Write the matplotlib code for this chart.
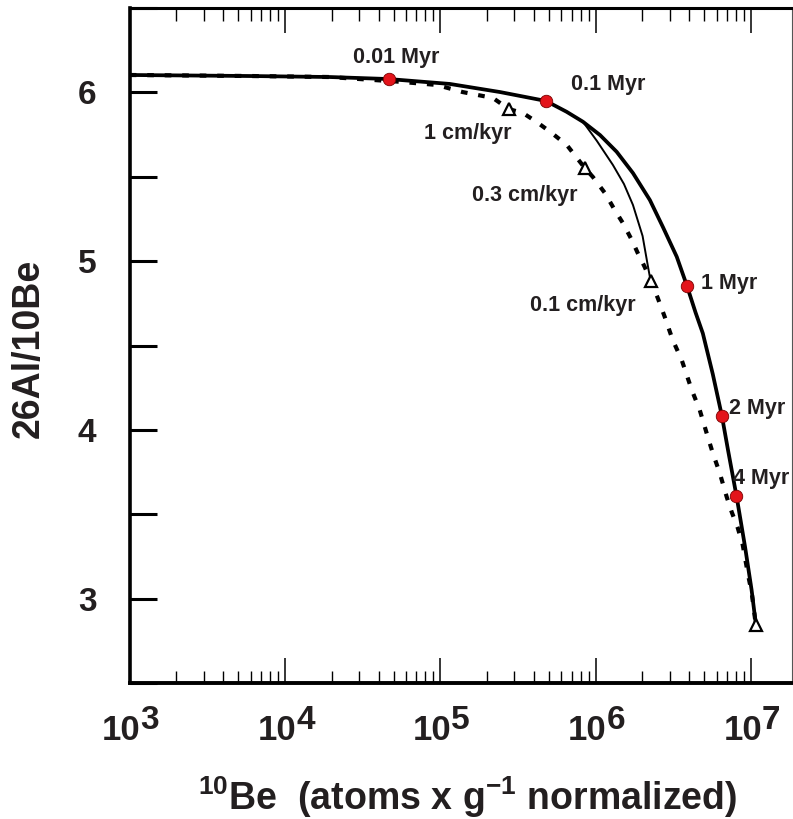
import matplotlib
matplotlib.use("Agg")
import matplotlib.pyplot as plt
import matplotlib.transforms as mtransforms
from matplotlib.ticker import LogLocator, MultipleLocator, NullFormatter

plt.rcParams["font.family"] = ["Liberation Sans", "DejaVu Sans"]
plt.rcParams["font.weight"] = "bold"

TXT = "#231f20"

# ---- data ----
# constant exposure, no erosion (thick line)
expo_x = [1.0e3, 5.93e3, 1.94e4, 4.66e4, 1.15e5, 2.42e5, 4.79e5, 6.50e5, 8.28e5,
          1.067e6, 1.365e6, 1.738e6, 2.234e6, 2.710e6, 3.327e6, 3.873e6, 4.395e6,
          4.898e6, 5.675e6, 6.501e6, 7.112e6, 8.091e6, 9.162e6, 1.0093e7, 1.0765e7]
expo_y = [6.103, 6.097, 6.091, 6.079, 6.050, 6.002, 5.949, 5.885, 5.826,
          5.747, 5.648, 5.522, 5.362, 5.202, 5.026, 4.853, 4.696,
          4.572, 4.331, 4.082, 3.881, 3.602, 3.306, 3.051, 2.844]

# thin line, ends at 0.1 cm/kyr
thin_x = [1.0e3, 1.94e4, 4.66e4, 1.15e5, 2.42e5, 4.79e5, 6.50e5, 8.28e5,
          1.019e6, 1.291e6, 1.521e6, 1.738e6, 2.005e6, 2.163e6, 2.259e6]
thin_y = [6.103, 6.091, 6.079, 6.050, 6.002, 5.949, 5.885, 5.826,
          5.712, 5.570, 5.457, 5.333, 5.149, 4.977, 4.882]

# steady-state erosion (dotted)
eros_x = [1.0e3, 5.93e3, 1.94e4, 5.47e4, 9.48e4, 1.39e5, 2.18e5, 2.76e5, 3.40e5,
          4.18e5, 5.22e5, 6.52e5, 8.51e5, 9.59e5, 1.146e6, 1.327e6, 1.496e6,
          1.710e6, 1.866e6, 2.070e6, 2.265e6, 2.512e6, 2.786e6, 3.133e6, 3.581e6,
          4.159e6, 4.677e6, 5.272e6, 5.675e6, 6.295e6, 6.982e6, 7.516e6, 8.222e6,
          8.851e6, 9.528e6, 1.0116e7, 1.074e7]
eros_y = [6.103, 6.097, 6.091, 6.063, 6.044, 6.002, 5.967, 5.901, 5.878,
          5.824, 5.759, 5.688, 5.552, 5.499, 5.404, 5.303, 5.226,
          5.125, 5.048, 4.965, 4.882, 4.781, 4.669, 4.533, 4.414,
          4.236, 4.118, 3.958, 3.863, 3.744, 3.602, 3.513, 3.419,
          3.318, 3.152, 3.033, 2.845]

time_labels = ["0.01 Myr", "0.1 Myr", "1 Myr", "2 Myr", "4 Myr"]
time_x = [4.66e4, 4.79e5, 3.873e6, 6.501e6, 8.0e6]
time_y = [6.079, 5.949, 4.853, 4.082, 3.606]

rate_labels = ["1 cm/kyr", "0.3 cm/kyr", "0.1 cm/kyr", ""]
rate_x = [2.76e5, 8.51e5, 2.265e6, 1.074e7]
rate_y = [5.901, 5.552, 4.882, 2.845]

decades = [3, 4, 5, 6, 7]

# label offsets in pixels (dx, dy, ha)
time_off = [(7, 22, "center"), (25, 16, "left"), (14, 2, "left"),
            (7, 8, "left"), (-3, 18, "left")]
rate_off = [(3, -24, "right"), (-7, -28, "right"), (-15, -24, "right"), (0, 0, "right")]

# ---- figure ----
fig = plt.figure(figsize=(7.93, 8.19), dpi=100)
ax = fig.add_axes([129.7 / 793, 1 - 683 / 819, (792 - 129.7) / 793, 675 / 819])

ax.plot(expo_x, expo_y, color="black", lw=2.7, zorder=3, solid_joinstyle="round")
ax.plot(thin_x, thin_y, color="black", lw=1.4, zorder=3, solid_joinstyle="round")
ax.plot(eros_x, eros_y, color="black", lw=3.0, dashes=(1.6, 2.6), zorder=3)

ax.plot(rate_x, rate_y, ls="none", marker="^", ms=9, mfc="white",
        mec="black", mew=1.6, zorder=4)
ax.plot(time_x, time_y, ls="none", marker="o", ms=9, mfc="#e3141b",
        mec="#7a0000", mew=0.6, zorder=5)

for lab, x, y, (dx, dy, ha) in zip(time_labels, time_x, time_y, time_off):
    ax.annotate(lab, (x, y), xytext=(dx, dy), textcoords="offset pixels",
                ha=ha, va="center", fontsize=15.5, fontweight="bold", color=TXT, zorder=6)
for lab, x, y, (dx, dy, ha) in zip(rate_labels, rate_x, rate_y, rate_off):
    if lab:
        ax.annotate(lab, (x, y), xytext=(dx, dy), textcoords="offset pixels",
                    ha=ha, va="center", fontsize=15.5, fontweight="bold", color=TXT, zorder=6)

ax.set_xscale("log")
ax.set_xlim(1e3, 1.837e7)
ax.set_ylim(2.5, 6.5)

ax.xaxis.set_major_locator(LogLocator(base=10, numticks=10))
ax.xaxis.set_minor_locator(LogLocator(base=10, subs=range(2, 10), numticks=20))
ax.xaxis.set_minor_formatter(NullFormatter())
ax.yaxis.set_major_locator(MultipleLocator(1))
ax.yaxis.set_minor_locator(MultipleLocator(0.5))

ax.tick_params(axis="x", which="major", direction="in", length=18, width=1.1,
               top=True, bottom=True, labelbottom=False)
ax.tick_params(axis="x", which="minor", direction="in", length=9, width=1.0,
               top=True, bottom=True)
ax.tick_params(axis="y", which="both", direction="in", length=19.5, width=2.2,
               left=True, right=False)
ax.tick_params(axis="y", which="major", pad=24, labelsize=24, labelcolor=TXT)

for s, w in [("left", 2.6), ("bottom", 2.8), ("top", 2.2), ("right", 0.8)]:
    ax.spines[s].set_linewidth(w)
ax.spines["right"].set_color("#555555")

# x tick labels: 10 with a big raised exponent
base_tr = mtransforms.offset_copy(ax.get_xaxis_transform(), fig=fig, x=11, y=0, units="dots")
for d in decades:
    ax.text(10.0 ** d, -0.0844, "10", transform=base_tr, ha="right", va="baseline",
            fontsize=25, fontweight="bold", color=TXT, clip_on=False)
    ax.text(10.0 ** d, -0.0680, str(d), transform=base_tr, ha="left", va="baseline",
            fontsize=24, fontweight="bold", color=TXT, clip_on=False)

ax.text(-0.152, 0.496, "26Al/10Be", transform=ax.transAxes, rotation=90,
        ha="center", va="center", fontsize=27, fontweight="bold", color=TXT)
ax.text(0.511, -0.169, r"$\mathregular{^{10}}$Be  (atoms x g$\mathregular{^{-1}}$ normalized)",
        transform=ax.transAxes, ha="center", va="center", fontsize=27,
        fontweight="bold", color=TXT)

fig.savefig("out.png", dpi=100)
